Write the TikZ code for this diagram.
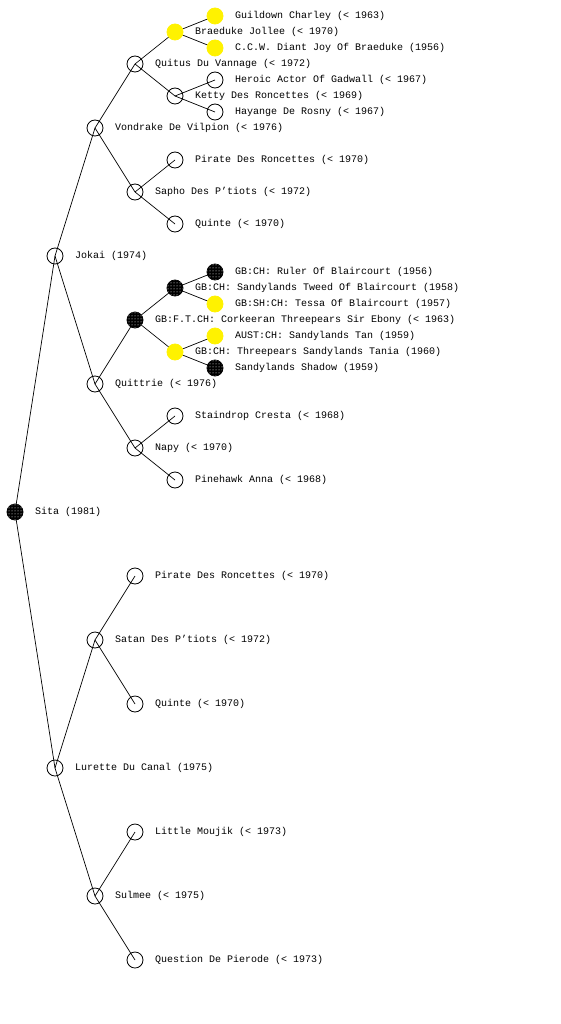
\documentclass[tikz,border=0pt]{standalone}
\usepackage{fontspec}
\setmonofont{Liberation Mono}
\usetikzlibrary{patterns,backgrounds}
\tikzset{
  pers/.style={circle,draw=black,line width=0.8pt,minimum size=16pt,inner sep=0pt},
  yel/.style={pers,draw=yellow,fill=yellow},
  blk/.style={pers,fill=black,postaction={pattern=dots,pattern color=white}},
  lbl/.style={anchor=west,inner sep=0pt,font=\ttfamily\fontsize{10pt}{12pt}\selectfont},
  edge/.style={line width=0.7pt,black}
}
\newcommand{\pers}[5]{%
  \node[#4] (#1) at (#2,#3) {};
  \node[lbl] (#1-t) at (#2+20,#3) {#5};}
\begin{document}
\begin{tikzpicture}[x=1pt,y=-1pt]
\useasboundingbox (0,0) rectangle (560,1024);
\pers{sita}{15}{512}{blk}{Sita (1981)}
\pers{jokai}{55}{256}{pers}{Jokai (1974)}
\pers{lurette}{55}{768}{pers}{Lurette Du Canal (1975)}
\pers{vondrake}{95}{128}{pers}{Vondrake De Vilpion (< 1976)}
\pers{quittrie}{95}{384}{pers}{Quittrie (< 1976)}
\pers{satan}{95}{640}{pers}{Satan Des P’tiots (< 1972)}
\pers{sulmee}{95}{896}{pers}{Sulmee (< 1975)}
\pers{quitus}{135}{64}{pers}{Quitus Du Vannage (< 1972)}
\pers{sapho}{135}{192}{pers}{Sapho Des P’tiots (< 1972)}
\pers{corkeeran}{135}{320}{blk}{GB:F.T.CH: Corkeeran Threepears Sir Ebony (< 1963)}
\pers{napy}{135}{448}{pers}{Napy (< 1970)}
\pers{pirate2}{135}{576}{pers}{Pirate Des Roncettes (< 1970)}
\pers{quinte2}{135}{704}{pers}{Quinte (< 1970)}
\pers{moujik}{135}{832}{pers}{Little Moujik (< 1973)}
\pers{question}{135}{960}{pers}{Question De Pierode (< 1973)}
\pers{braeduke}{175}{32}{yel}{Braeduke Jollee (< 1970)}
\pers{ketty}{175}{96}{pers}{Ketty Des Roncettes (< 1969)}
\pers{pirate1}{175}{160}{pers}{Pirate Des Roncettes (< 1970)}
\pers{quinte1}{175}{224}{pers}{Quinte (< 1970)}
\pers{tweed}{175}{288}{blk}{GB:CH: Sandylands Tweed Of Blaircourt (1958)}
\pers{tania}{175}{352}{yel}{GB:CH: Threepears Sandylands Tania (1960)}
\pers{staindrop}{175}{416}{pers}{Staindrop Cresta (< 1968)}
\pers{pinehawk}{175}{480}{pers}{Pinehawk Anna (< 1968)}
\pers{guildown}{215}{16}{yel}{Guildown Charley (< 1963)}
\pers{ccw}{215}{48}{yel}{C.C.W. Diant Joy Of Braeduke (1956)}
\pers{heroic}{215}{80}{pers}{Heroic Actor Of Gadwall (< 1967)}
\pers{hayange}{215}{112}{pers}{Hayange De Rosny (< 1967)}
\pers{ruler}{215}{272}{blk}{GB:CH: Ruler Of Blaircourt (1956)}
\pers{tessa}{215}{304}{yel}{GB:SH:CH: Tessa Of Blaircourt (1957)}
\pers{tan}{215}{336}{yel}{AUST:CH: Sandylands Tan (1959)}
\pers{shadow}{215}{368}{blk}{Sandylands Shadow (1959)}
\begin{scope}[on background layer]
\foreach \a/\b in {sita/jokai,sita/lurette,jokai/vondrake,jokai/quittrie,
  lurette/satan,lurette/sulmee,vondrake/quitus,vondrake/sapho,
  quittrie/corkeeran,quittrie/napy,satan/pirate2,satan/quinte2,
  sulmee/moujik,sulmee/question,quitus/braeduke,quitus/ketty,
  sapho/pirate1,sapho/quinte1,corkeeran/tweed,corkeeran/tania,
  napy/staindrop,napy/pinehawk,braeduke/guildown,braeduke/ccw,
  ketty/heroic,ketty/hayange,tweed/ruler,tweed/tessa,tania/tan,tania/shadow}
  \draw[edge] (\a.center) -- (\b.center);
\end{scope}
\end{tikzpicture}
\end{document}
